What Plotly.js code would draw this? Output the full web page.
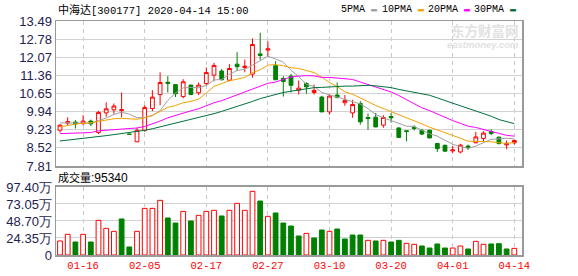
<!DOCTYPE html>
<html><head><meta charset="utf-8">
<script src="https://cdn.plot.ly/plotly-3.0.1.min.js"></script>
<style>html,body{margin:0;padding:0;background:#fff;}#chart{width:578px;height:276px;}</style>
</head><body><div id="chart"></div>
<script>
const dates = ['01-13','01-14','01-15','01-16','01-17','01-20','01-21','01-22','01-23','02-03','02-04','02-05','02-06','02-07','02-10','02-11','02-12','02-13','02-14','02-17','02-18','02-19','02-20','02-21','02-24','02-25','02-26','02-27','02-28','03-02','03-03','03-04','03-05','03-06','03-09','03-10','03-11','03-12','03-13','03-16','03-17','03-18','03-19','03-20','03-23','03-24','03-25','03-26','03-27','03-30','03-31','04-01','04-02','04-03','04-07','04-08','04-09','04-10','04-13','04-14'];
const openP  = [9.21,9.49,9.53,9.47,9.57,9.12,9.89,10.01,9.98,9.06, 8.76,9.21,10.06,10.61,11.09,11.00,10.53,10.98,10.68,11.04, 11.37,11.53,11.17,11.80,11.67,11.41,12.20,12.35,11.74,11.24, 11.33,10.78,11.04,10.69,10.51,9.93,10.59,10.29,9.89,10.26, 9.71,9.72,9.41,9.75,9.30,9.19,9.33,9.21,9.21,8.69, 8.62,8.40,8.36,8.59,8.72,8.89,9.16,8.94,8.64,8.72];
const highP  = [9.45,9.72,9.61,9.80,9.63,9.97,10.30,10.26,10.69,9.07, 9.30,10.19,10.78,11.48,11.33,11.00,11.21,10.99,11.08,11.67, 11.85,11.61,11.80,12.27,11.98,12.81,13.03,12.70,11.92,11.33, 11.42,11.16,11.09,11.00,10.56,10.59,11.08,10.59,10.40,10.35, 9.87,9.89,9.80,9.89,9.33,9.20,9.40,9.27,9.23,8.70, 8.65,8.60,8.68,8.65,9.15,9.17,9.25,8.96,8.81,8.85];
const lowP   = [9.12,9.41,9.28,9.41,9.38,9.06,9.74,9.85,9.72,9.04, 8.74,9.15,9.96,10.19,10.69,10.51,10.46,10.59,10.59,10.95, 11.13,11.16,11.13,11.53,11.48,11.27,11.97,12.10,11.19,10.53, 10.69,10.61,10.64,10.61,9.92,9.83,10.46,10.17,9.70,9.43, 9.23,9.33,9.31,9.51,8.91,8.78,9.20,9.02,8.90,8.36, 8.38,8.31,8.31,8.44,8.70,8.78,9.02,8.65,8.47,8.65];
const closeP = [9.41,9.55,9.46,9.57,9.46,9.91,10.05,10.16,10.02,9.05, 9.21,10.10,10.51,11.08,11.05,10.64,11.11,10.61,10.98,11.47, 11.75,11.19,11.63,11.70,11.72,12.57,12.14,12.40,11.19,11.12, 10.97,10.86,10.91,10.77,9.93,10.55,10.50,10.38,10.22,9.54, 9.67,9.34,9.71,9.70,8.93,9.16,9.28,9.06,8.91,8.49, 8.39,8.44,8.63,8.53,8.95,9.10,9.08,8.69,8.68,8.81];
const volume = [20.1,29.6,18.6,29.6,18.6,49.6,38.2,33.9,51.6,11.5, 33.9,66.8,66.8,78.3,53.0,45.8,62.5,48.7,56.8,62.5, 64.0,55.9,64.0,74.0,64.0,91.2,77.3,55.4,60.2,45.8, 41.5,27.2,31.0,24.4,35.8,33.9,37.2,22.9,28.6,28.6, 21.0,20.1,21.0,18.6,21.0,16.7,15.3,12.9,10.0,15.8, 10.0,10.0,12.9,8.6,19.6,15.3,15.8,16.2,8.6,9.53];
const ma5  = [9.50,9.50,9.49,9.49,9.49,9.59,9.69,9.83,9.92,9.84, 9.70,9.71,9.78,9.98,10.38,10.67,10.87,10.89,10.88,10.96, 11.18,11.20,11.40,11.55,11.60,11.76,11.95,12.11,12.00,11.88, 11.56,11.31,11.01,10.93,10.69,10.60,10.53,10.43,10.32,10.24, 10.06,9.83,9.70,9.59,9.47,9.37,9.36,9.23,9.07,8.98, 8.83,8.66,8.57,8.50,8.59,8.72,8.86,8.87,8.90,8.87];
const ma10 = [9.34,9.40,9.45,9.48,9.50,9.56,9.62,9.66,9.68,9.66, 9.64,9.70,9.80,9.95,10.11,10.18,10.29,10.34,10.43,10.67, 10.93,11.04,11.15,11.21,11.28,11.47,11.58,11.76,11.78,11.74, 11.66,11.63,11.56,11.47,11.29,11.08,10.92,10.72,10.62,10.46, 10.33,10.18,10.06,9.95,9.85,9.72,9.59,9.46,9.33,9.23, 9.10,9.01,8.90,8.78,8.78,8.78,8.76,8.72,8.70,8.73];
const ma20 = [9.08,9.09,9.10,9.11,9.12,9.19,9.21,9.23,9.25,9.27, 9.30,9.36,9.45,9.57,9.70,9.80,9.90,9.97,10.05,10.17, 10.29,10.37,10.48,10.58,10.70,10.83,10.93,11.05,11.10,11.21, 11.30,11.33,11.35,11.34,11.28,11.28,11.25,11.24,11.20,11.10, 11.00,10.91,10.81,10.71,10.57,10.40,10.26,10.09,9.98,9.84, 9.72,9.59,9.48,9.37,9.32,9.25,9.18,9.09,9.01,8.98];
const ma30 = [8.79,8.82,8.86,8.90,8.93,8.96,9.00,9.04,9.08,9.12, 9.16,9.21,9.27,9.34,9.42,9.50,9.57,9.63,9.70,9.78, 9.86,9.95,10.04,10.13,10.23,10.34,10.45,10.54,10.62,10.69, 10.74,10.79,10.84,10.88,10.89,10.91,10.93,10.94,10.94,10.96, 10.97,10.95,10.92,10.88,10.81,10.76,10.70,10.64,10.58,10.48, 10.36,10.27,10.17,10.07,9.97,9.86,9.76,9.63,9.55,9.47];
const tickDates = ['01-16','02-05','02-17','02-27','03-10','03-20','04-01','04-14'];
const priceTicks = [7.81,8.52,9.23,9.94,10.65,11.36,12.07,12.78,13.49];
const volTicks = [0,24.35,48.70,73.05,97.40];
const volTickText = ['0','24.35万','48.70万','73.05万','97.40万'];
const maNames = ['5PMA','10PMA','20PMA','30PMA'];
const lastVolume = '95340';
const titleName = '中海达';
const titleRest = '[300177] 2020-04-14 15:00';

const RED = '#ff0000', GREEN = '#008000';
const maColors = ['#a0a0a0','#f2a200','#ff00ff','#00703c'];
const up = closeP.map((c,i)=> i===0 ? true : c >= closeP[i-1]);

const traces = [
  {type:'candlestick', x:dates, open:openP, high:highP, low:lowP, close:closeP,
   xaxis:'x', yaxis:'y', whiskerwidth:0, hoverinfo:'skip',
   increasing:{line:{color:RED,width:1}, fillcolor:'#ffffff'},
   decreasing:{line:{color:GREEN,width:1}, fillcolor:GREEN}}
];
[ma5,ma10,ma20,ma30].forEach((m,k)=>traces.push({type:'scatter',mode:'lines',x:dates,y:m,xaxis:'x',yaxis:'y',
  line:{color:maColors[k],width:1},hoverinfo:'skip'}));
traces.push({type:'bar',x:dates,y:volume,xaxis:'x2',yaxis:'y2',width:0.62,hoverinfo:'skip',
  marker:{color:up.map(u=>u?'#ffffff':GREEN), line:{color:up.map(u=>u?RED:GREEN),width:1}}});

const BORDER = '#9a9a9a', GRID = '#d2d2d2', YLAB = '#1e2250';
const xBase = {type:'category', range:[-0.52,60.0], tickvals:tickDates, ticktext:tickDates,
  showgrid:true, gridcolor:'#c8c8c8', griddash:'4px,4px', gridwidth:1, showline:true, mirror:true,
  linecolor:BORDER, linewidth:1.5, ticks:'', zeroline:false, fixedrange:true};
const yFont = {family:'Liberation Sans, Arial, sans-serif', size:13, color:YLAB};

const ann = [];
const px2x = p => (p-56)/466, px2y = p => (255-p)/234;
ann.push({xref:'paper',yref:'paper',x:px2x(56),y:px2y(10),xanchor:'left',yanchor:'middle',showarrow:false,
  text:'<span style="font-size:11px">'+titleName+'</span>'+titleRest,
  font:{family:'Liberation Mono, Noto Sans CJK SC, monospace',size:10.5,color:'#000'}});
const legX = [339,380,425.7,471.7];
maNames.forEach((n,k)=>{
  ann.push({xref:'paper',yref:'paper',x:px2x(legX[k]),y:px2y(10),xanchor:'left',yanchor:'middle',showarrow:false,
    text:n+' <span style="color:'+maColors[k]+'">▬</span>',
    font:{family:'Liberation Mono, monospace',size:10,color:'#000'}});
});
ann.push({xref:'paper',yref:'paper',x:px2x(56),y:px2y(178),xanchor:'left',yanchor:'middle',showarrow:false,
  text:'<span style="font-size:11px">成交量</span>:'+lastVolume,
  font:{family:'Liberation Sans, Noto Sans CJK SC, sans-serif',size:12,color:'#000'}});
ann.push({xref:'paper',yref:'paper',x:px2x(521),y:px2y(30),xanchor:'right',yanchor:'middle',showarrow:false,
  text:'<b>东方财富网</b>',font:{family:'Noto Sans CJK SC',size:13.5,color:'#e2e2e2'}});
ann.push({xref:'paper',yref:'paper',x:px2x(521),y:px2y(45),xanchor:'right',yanchor:'middle',showarrow:false,
  text:'<b><i>eastmoney.com</i></b>',font:{family:'Liberation Sans',size:9.5,color:'#e2e2e2'}});

const layout = {
  width:578, height:276, margin:{l:56,r:56,t:21,b:21,pad:0},
  paper_bgcolor:'#ffffff', plot_bgcolor:'#ffffff', showlegend:false,
  xaxis:Object.assign({}, xBase, {anchor:'y', domain:[0,1], showticklabels:false, rangeslider:{visible:false}}),
  xaxis2:Object.assign({}, xBase, {anchor:'y2', domain:[0,1], matches:'x', showticklabels:true,
    tickfont:{family:'Liberation Mono, monospace', size:10.5, color:RED}}),
  yaxis:{domain:[0.3803,1], range:[7.81,13.49], tickvals:priceTicks, ticktext:priceTicks.map(v=>v.toFixed(2)),
    tickfont:yFont, showgrid:true, gridcolor:GRID, gridwidth:1, showline:true, mirror:true,
    linecolor:BORDER, linewidth:1.5, ticks:'', zeroline:false, fixedrange:true},
  yaxis2:{domain:[0,0.2906], range:[0,97.4], tickvals:volTicks, ticktext:volTickText,
    tickfont:yFont, showgrid:true, gridcolor:GRID, gridwidth:1, showline:true, mirror:true,
    linecolor:BORDER, linewidth:1.5, ticks:'', zeroline:false, fixedrange:true},
  annotations:ann
};
Plotly.newPlot('chart', traces, layout, {staticPlot:true, displayModeBar:false});
</script></body></html>
